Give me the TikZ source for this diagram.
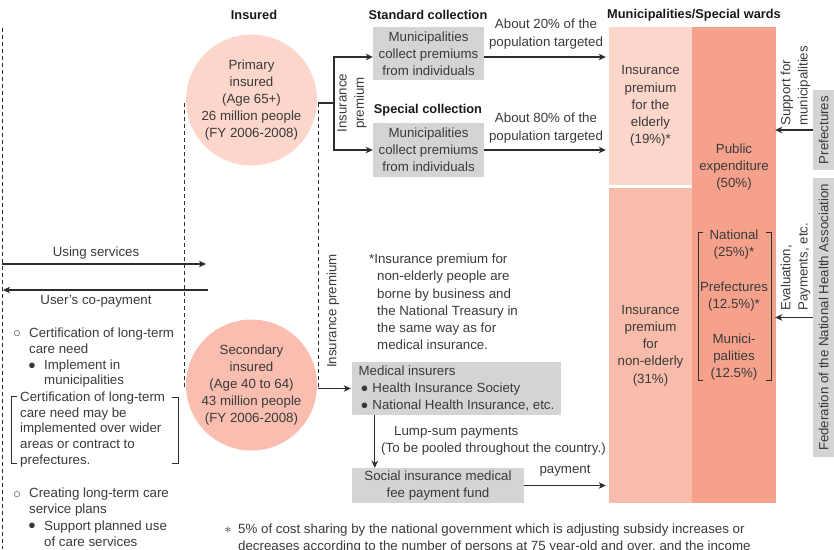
\documentclass[tikz,border=0pt]{standalone}
\usepackage{fontspec}
\setmainfont{Liberation Sans}
\usetikzlibrary{arrows.meta,calc}
\definecolor{txt}{RGB}{58,58,58}
\definecolor{linec}{RGB}{45,45,45}
\definecolor{boxgray}{RGB}{212,212,212}
\definecolor{pinkA}{RGB}{252,214,202}
\definecolor{pinkB}{RGB}{249,190,175}
\definecolor{pinkC}{RGB}{249,188,170}
\definecolor{pinkD}{RGB}{245,161,139}
\tikzset{
  head/.style={inner sep=0pt, font=\fontsize{12.8}{15}\selectfont\bfseries, text=black!90},
  lbl/.style={inner sep=0pt, align=center},
  lleft/.style={inner sep=0pt, align=left, anchor=west, font=\fontsize{13.3}{15.8}\selectfont},
  gbox/.style={fill=boxgray, inner sep=0pt, align=center},
  colbox/.style={inner sep=0pt, align=center},
  arr/.style={draw=linec, line width=1.1pt, -{Stealth[length=7pt,width=6.5pt,inset=2pt]}},
  ln/.style={draw=linec, line width=1.1pt},
  dsh/.style={draw=linec, line width=0.9pt, dash pattern=on 4pt off 3pt},
  rot/.style={rotate=90, inner sep=0pt},
  sym/.style={inner sep=0pt, font=\fontsize{13}{14}\selectfont}
}
\begin{document}
\begin{tikzpicture}[x=1pt,y=-1pt, font=\fontsize{13.3}{17.2}\selectfont, text=txt]
\useasboundingbox (0,0) rectangle (834,549);

% headings
\node[head] (hIns) at (254,15) {Insured};
\node[head] (hStd) at (428,15) {Standard collection};
\node[head] (hSpe) at (428,110) {Special collection};
\node[head] (hMun) at (694,15) {Municipalities/Special wards};

% circles
\node[circle, fill=pinkA, minimum size=131pt, inner sep=0pt, align=center] (c1) at (251.5,100)
  {Primary\\insured\\(Age 65+)\\26 million people\\(FY 2006-2008)};
\node[circle, fill=pinkB, minimum size=131pt, inner sep=0pt, align=center] (c2) at (251.5,385)
  {Secondary\\insured\\(Age 40 to 64)\\43 million people\\(FY 2006-2008)};

% dashed lines
\draw[dsh] (2,28) -- (2,549);
\draw[dsh] (184,103) -- (184,388);
\draw[dsh] (318,103) -- (318,388);

% collection boxes
\node[gbox, minimum width=111pt, minimum height=53pt] (b1) at (428.5,53.5)
  {Municipalities\\collect premiums\\from individuals};
\node[gbox, minimum width=111pt, minimum height=54pt] (b2) at (428.5,150)
  {Municipalities\\collect premiums\\from individuals};

\coordinate (d1) at (318,103);
\coordinate (j1) at (334,103);
\draw[ln] (d1) -- (j1);
\draw[arr] (j1) |- ([yshift=-3.5pt]b1.west);
\draw[arr] (j1) |- (b2.west);
\node[rot, align=center] (ip1) at (352,103) {Insurance\\premium};

% municipality columns
\node[colbox, fill=pinkA, minimum width=83pt, minimum height=158pt] (m1) at (650.5,106)
  {Insurance\\premium\\for the\\elderly\\(19\%)*};
\node[colbox, fill=pinkC, minimum width=83pt, minimum height=315pt] (m2) at (650.5,345.5)
  {Insurance\\premium\\for\\non-elderly\\(31\%)};
\node[colbox, fill=pinkD, minimum width=84pt, minimum height=476pt] (m3) at (734,265) {};

\node[lbl] (pub) at (734,167) {Public\\expenditure\\(50\%)};
\node[lbl] (nat) at (734,244.5) {National\\(25\%)*};
\node[lbl] (pre) at (734,296.5) {Prefectures\\(12.5\%)*};
\node[lbl] (mun) at (734,357) {Munici-\\palities\\(12.5\%)};
\draw[ln, line width=1pt] (703,232) -- (698,232) -- (698,380) -- (703,380);
\draw[ln, line width=1pt] (766,232) -- (771,232) -- (771,380) -- (766,380);

% arrows to municipalities
\draw[arr] ([yshift=-3.5pt]b1.east) -- ([yshift=-3.5pt,xshift=-3pt]b1.east -| m1.west);
\draw[arr] (b2.east) -- ([xshift=-3pt]b2.east -| m1.west);
\node[lbl] (a20) at (546,34) {About 20\% of the\\population targeted};
\node[lbl] (a80) at (546,128) {About 80\% of the\\population targeted};

% right side
\node[gbox, rot, minimum width=80pt, minimum height=21pt] (pref) at (823.5,130) {Prefectures};
\node[gbox, rot, minimum width=279pt, minimum height=21pt] (fed) at (823.5,317.5)
  {Federation of the National Health Association};
\draw[arr] (pref.north) -- ([xshift=-1pt]pref.north -| m3.east);
\draw[arr] (fed.north) -- ([xshift=-1pt]fed.north -| m3.east);
\node[rot, align=left, anchor=west] (sup) at (795.5,126) {Support for\\municipalities};
\node[rot, align=left, anchor=west] (eva) at (795.5,311) {Evaluation,\\Payments, etc.};

% left side services
\coordinate (us1) at (2,264);
\coordinate (us2) at (206,264);
\draw[arr] (us1) -- (us2);
\node[lbl] (ust) at (96,253) {Using services};
\coordinate (cp1) at (208,290);
\coordinate (cp2) at (3,290);
\draw[arr] (cp1) -- (cp2);
\node[lbl] (cpt) at (96,301) {User's co-payment};

% left lists
\node[sym] (o1) at (17,334) {○};
\node[lleft] (t1) at (29,341) {Certification of long-term\\care need};
\node[sym] (bu1) at (32,366.5) {●};
\node[lleft] (t2) at (44,373.5) {Implement in\\municipalities};
\node[lleft] (t3) at (20,429.5) {Certification of long-term\\care need may be\\implemented over wider\\areas or contract to\\prefectures.};
\draw[ln, line width=1pt] (17,396) -- (11,396) -- (11,463) -- (17,463);
\draw[ln, line width=1pt] (172,397) -- (178,397) -- (178,463) -- (172,463);
\node[sym] (o2) at (17,495) {○};
\node[lleft] (t4) at (29,502) {Creating long-term care\\service plans};
\node[sym] (bu2) at (32,526.5) {●};
\node[lleft] (t5) at (44,534) {Support planned use\\of care services};

% secondary insured premium
\node[rot] (ip2) at (333,311) {Insurance premium};
\node[inner sep=0pt, align=left, anchor=west] (note) at (369,302)
  {*Insurance premium for\\\hspace*{8pt}non-elderly people are\\\hspace*{8pt}borne by business and\\\hspace*{8pt}the National Treasury in\\\hspace*{8pt}the same way as for\\\hspace*{8pt}medical insurance.};

\node[gbox, align=left, minimum width=209pt, minimum height=53pt] (mi) at (456.5,388.5)
  {Medical insurers\\\hspace*{2pt}{\fontsize{13}{14}\selectfont ●}\hspace{4pt}Health Insurance Society\\\hspace*{2pt}{\fontsize{13}{14}\selectfont ●}\hspace{4pt}National Health Insurance, etc.};
\coordinate (d2) at (318,388.5);
\draw[arr] (d2) -- ([xshift=-1pt]d2 -| mi.west);

\node[gbox, minimum width=172pt, minimum height=35pt] (sf) at (438,485.5)
  {Social insurance medical\\fee payment fund};
\draw[arr] ([xshift=23pt]mi.south west) -- ([xshift=23pt]sf.north west);
\node[inner sep=0pt, align=left, anchor=west] (lump) at (381,440.5)
  {\hspace*{13pt}Lump-sum payments\\(To be pooled throughout the country.)};
\draw[arr] (sf.east) -- ([xshift=-3pt]sf.east -| m2.west);
\node[lbl] (pay) at (565,471) {payment};

% footnote
\node[inner sep=0pt] (fst) at (228,530) {$\ast$};
\node[inner sep=0pt, align=left, anchor=west] (fn) at (238,538.5)
  {5\% of cost sharing by the national government which is adjusting subsidy increases or\\decreases according to the number of persons at 75 year-old and over, and the income};
\end{tikzpicture}
\end{document}
